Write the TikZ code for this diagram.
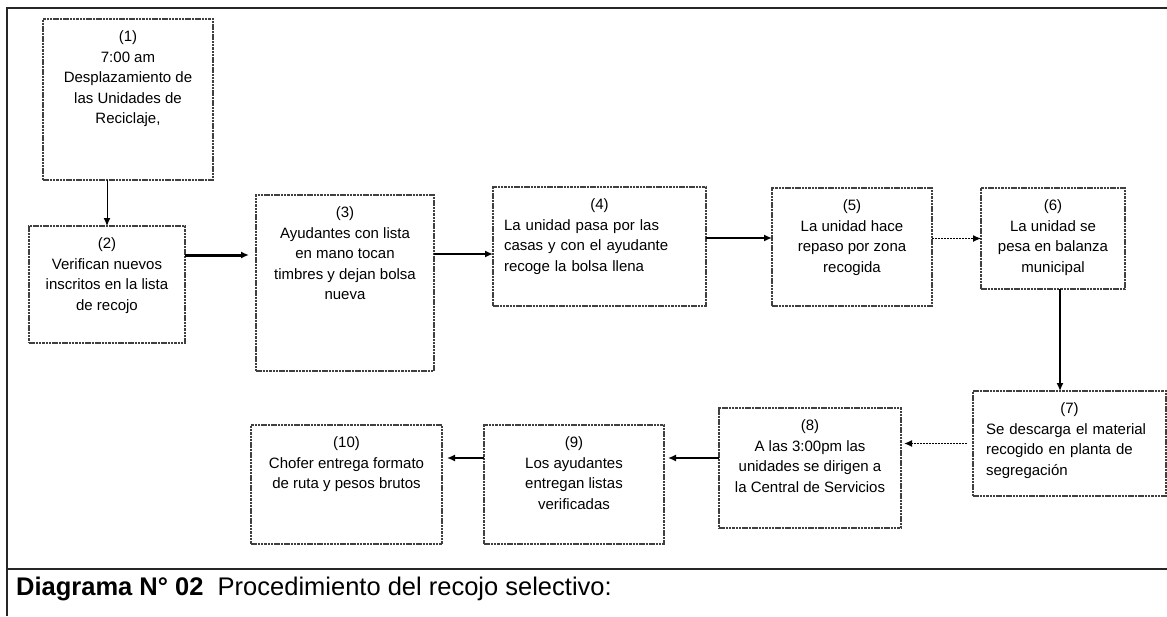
\documentclass[tikz,border=0pt]{standalone}
\usepackage{fontspec}
\setmainfont{Liberation Sans}
\usetikzlibrary{positioning,arrows.meta}

\begin{document}
\begin{tikzpicture}[x=1pt, y=-1pt, >={Latex[length=8pt,width=7pt]},
		n/.style={rectangle, draw=black!75, line width=1.1pt, dash pattern=on 2.5pt off 0.8pt, inner sep=0pt, outer sep=0pt},
		txt/.style={align=center, inner sep=0pt, outer sep=0pt, font=\fontsize{15}{20.5}\selectfont},
		ltxt/.style={txt, align=left},
		frame/.style={line width=1.6pt, draw=black!85}]
			\useasboundingbox (0,0) rectangle (1167,616);

			\draw[frame] (7,616) -- (7,8) -- (1167,8);
			\draw[frame] (7,569) -- (1167,569);

			\node[n, minimum width=170pt, minimum height=161pt] (b1) at (128,99.5) {};
			\node[n, minimum width=156pt, minimum height=117pt] (b2) at (107,284.5) {};
			\node[n, minimum width=178pt, minimum height=176pt] (b3) at (345,283) {};
			\node[n, minimum width=213pt, minimum height=119pt] (b4) at (599.5,246.5) {};
			\node[n, minimum width=160pt, minimum height=118pt] (b5) at (852,247) {};
			\node[n, minimum width=144pt, minimum height=101pt] (b6) at (1053,238.5) {};
			\node[n, minimum width=193pt, minimum height=105pt] (b7) at (1069.5,443.5) {};
			\node[n, minimum width=182pt, minimum height=120pt] (b8) at (810,468) {};
			\node[n, minimum width=180pt, minimum height=119pt] (b9) at (574,484.5) {};
			\node[n, minimum width=191pt, minimum height=119pt] (b10) at (346.5,484.5) {};

			\node[txt, below=12pt of b1.north] (t1) {(1)\\7:00 am\\Desplazamiento de\\las Unidades de\\Reciclaje,};
			\node[txt, below=12pt of b2.north] (t2) {(2)\\Verifican nuevos\\inscritos en la lista\\de recojo};
			\node[txt, below=12pt of b3.north] (t3) {(3)\\Ayudantes con lista\\en mano tocan\\timbres y dejan bolsa\\nueva};
			\node[ltxt, text width=191pt, below right=12pt and 11pt of b4.north west] (t4) {\noindent\makebox[191pt]{(4)}\\La unidad pasa por las\\casas y con el ayudante\\recoge la bolsa llena};
			\node[txt, below=12pt of b5.north] (t5) {(5)\\La unidad hace\\repaso por zona\\recogida};
			\node[txt, below=12pt of b6.north] (t6) {(6)\\La unidad se\\pesa en balanza\\municipal};
			\node[ltxt, text width=167pt, below right=12pt and 13pt of b7.north west] (t7) {\noindent\makebox[167pt]{(7)}\\Se descarga el material\\recogido en planta de\\segregación};
			\node[txt, below=12pt of b8.north] (t8) {(8)\\A las 3:00pm las\\unidades se dirigen a\\la Central de Servicios};
			\node[txt, below=12pt of b9.north] (t9) {(9)\\Los ayudantes\\entregan listas\\verificadas};
			\node[txt, below=12pt of b10.north] (t10) {(10)\\Chofer entrega formato\\de ruta y pesos brutos};

			\node[anchor=base west, inner sep=0pt, font=\fontsize{25.5}{30}\selectfont] (cap) at (16,595) {\textbf{Diagrama N° 02}\ \ Procedimiento del recojo selectivo:};

			\coordinate (a2) at ([yshift=29.5pt]b2.east);
			\coordinate (a3) at ([yshift=29pt]b3.east);
			\coordinate (a4) at ([yshift=8.5pt]b4.east);
			\coordinate (c6) at ([xshift=7pt]b6.south);
			\coordinate (a8) at ([yshift=10pt]b8.west);
			\coordinate (a9) at ([yshift=26.5pt]b9.west);

			\draw[->, line width=1pt] (b2 |- b1.south) -- (b2.north);
			\draw[->, line width=3pt, shorten >=7pt] (a2) -- (a2 -| b3.west);
			\draw[->, line width=2pt] (a3) -- (a3 -| b4.west);
			\draw[->, line width=2pt] (a4) -- (a4 -| b5.west);
			\draw[->, line width=1pt, dash pattern=on 2pt off 1pt] (b5.east |- b6.west) -- (b6.west);
			\draw[->, line width=1.5pt] (c6) -- (c6 |- b7.north);
			\draw[->, line width=1.5pt, dash pattern=on 2pt off 1pt, shorten <=6pt, shorten >=3pt] (b7.west) -- (b7.west -| b8.east);
			\draw[->, line width=1.5pt, shorten >=4pt] (a8) -- (a8 -| b9.east);
			\draw[->, line width=1.5pt, shorten >=5pt] (a9) -- (a9 -| b10.east);
		\end{tikzpicture}
\end{document}
